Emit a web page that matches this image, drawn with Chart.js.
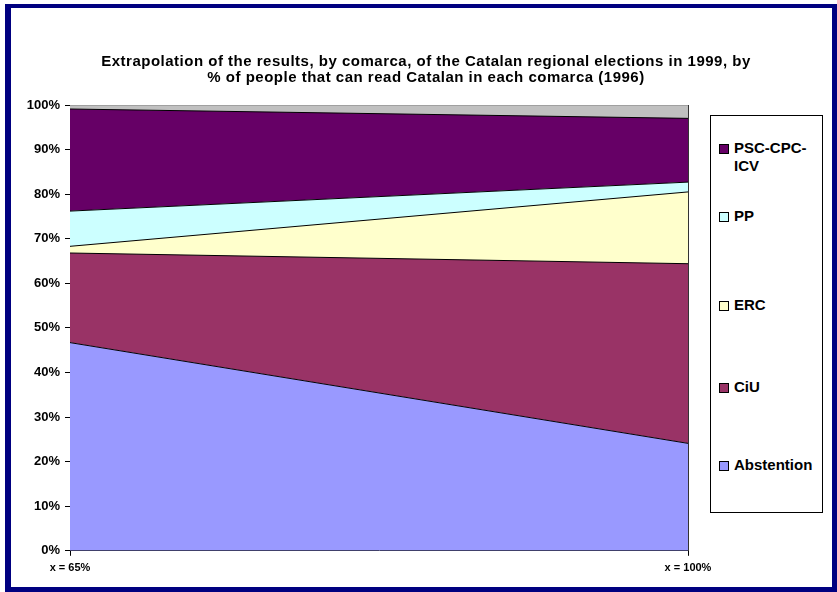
<!DOCTYPE html>
<html>
<head>
<meta charset="utf-8">
<script src="https://cdn.jsdelivr.net/npm/chart.js@4"></script>
<style>
  body { margin: 0; background: #fff; font-family: "Liberation Sans", Arial, sans-serif; }
  #frame { position: absolute; left: 5px; top: 4px; width: 832px; height: 588px; box-sizing: border-box;
           border-style: solid; border-color: #000080; border-width: 4px 5px 5px 6px; }
  #chart { position: absolute; left: 0; top: 0; }
  #title { position: absolute; left: 26px; width: 800px; top: 53px; text-align: center;
           font-weight: bold; font-size: 15px; letter-spacing: 0.5px; line-height: 16px; color: #000; }
  #legend { position: absolute; left: 710px; top: 115px; width: 113px; height: 398px; box-sizing: border-box;
            border: 1px solid #000; background: #fff; }
  .item { position: absolute; left: 8px; font-weight: bold; font-size: 15px; line-height: 18px; color: #000; }
  .box { position: absolute; left: 0; top: 5px; width: 8px; height: 8px; border: 1px solid #000; }
  .txt { position: absolute; left: 15px; width: 84px; }
</style>
</head>
<body>
<div id="frame"></div>
<canvas id="chart" width="837" height="592"></canvas>
<div id="title">Extrapolation of the results, by comarca, of the Catalan regional elections in 1999, by<br>% of people that can read Catalan in each comarca (1996)</div>
<div id="legend"></div>
<script>
// valores (en %), de abajo hacia arriba
var categorias = ["x = 65%", "x = 100%"];
var abstention = [46.7, 24.1];
var ciu = [20.1, 40.3];
var erc = [1.5, 16.1];
var pp = [7.9, 2.2];
var psc = [22.9, 14.3];
var otros = [0.9, 3.0];

var nombres = ["Abstention", "CiU", "ERC", "PP", "PSC-CPC-ICV", "Otros"];
var series = [abstention, ciu, erc, pp, psc, otros];
var colores = ["#9999FF", "#993366", "#FFFFCC", "#CCFFFF", "#660066", "#C0C0C0"];
var bordes = ["#000", "#000", "#000", "#000", "#000", "#808080"];
var enLeyenda = [true, true, true, true, true, false];

var datasets = series.map(function (valores, i) {
  return {
    label: nombres[i],
    data: valores,
    backgroundColor: colores[i],
    borderColor: bordes[i],
    borderWidth: 1,
    pointRadius: 0,
    tension: 0,
    fill: i === 0 ? "origin" : "-1",
  };
});

var ctx = document.getElementById("chart");
var myChart = new Chart(ctx, {
  type: "line",
  data: { labels: categorias, datasets: datasets },
  options: {
    responsive: false,
    animation: false,
    layout: { padding: { left: 12, right: 149, top: 105, bottom: 11 } },
    plugins: { legend: { display: false }, title: { display: false }, tooltip: { enabled: false } },
    scales: {
      x: {
        offset: false,
        grid: { drawOnChartArea: false, color: "#000", tickLength: 5 },
        border: { color: "#000", width: 1 },
        ticks: { color: "#000", font: { family: "Liberation Sans", size: 11, weight: "bold" }, padding: 6, maxRotation: 0 },
      },
      y: {
        stacked: true,
        min: 0,
        max: 100,
        afterFit: function (scale) { scale.width = 58; },
        grid: { drawOnChartArea: false, color: "#000", tickLength: 5 },
        border: { color: "#000", width: 1 },
        ticks: {
          stepSize: 10,
          padding: 5,
          color: "#000",
          font: { family: "Liberation Sans", size: 13, weight: "bold" },
          callback: function (v) { return v + "%"; },
        },
      },
      y2: {
        position: "right",
        min: 0,
        max: 100,
        afterFit: function (scale) { scale.width = 0; },
        grid: { drawOnChartArea: false, drawTicks: false },
        border: { color: "#333", width: 1 },
        ticks: { display: false },
      },
    },
  },
});

// leyenda a la derecha, orden inverso
var posiciones = [139, 207, 296, 378, 456];
var leyenda = document.getElementById("legend");
var k = 0;
for (var i = nombres.length - 1; i >= 0; i--) {
  if (!enLeyenda[i]) continue;
  var item = document.createElement("div");
  item.className = "item";
  item.style.top = (posiciones[k] - 116) + "px";
  item.innerHTML = '<span class="box" style="background:' + colores[i] + '"></span><span class="txt"></span>';
  item.querySelector(".txt").textContent = nombres[i];
  leyenda.appendChild(item);
  k++;
}
</script>
</body>
</html>
